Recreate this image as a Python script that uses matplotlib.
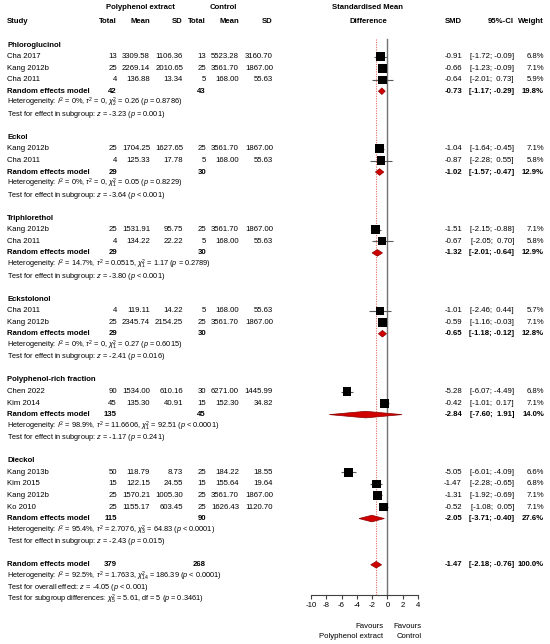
import numpy as np
import matplotlib
matplotlib.use('Agg')
import matplotlib.pyplot as plt

plt.rcParams['font.family'] = ['Liberation Sans', 'DejaVu Sans']
plt.rcParams['mathtext.fontset'] = 'custom'
plt.rcParams['mathtext.rm'] = 'Liberation Sans'
plt.rcParams['mathtext.it'] = 'Liberation Sans:italic'
plt.rcParams['mathtext.bf'] = 'Liberation Sans:bold'
plt.rcParams['axes.unicode_minus'] = False

# ---- data ----
subgroups = ['Phloroglucinol', 'Eckol', 'Triphlorethol', 'Eckstolonol',
             'Polyphenol-rich fraction', 'Dieckol']

study = ['Cha 2017', 'Kang 2012b', 'Cha 2011',
         'Kang 2012b', 'Cha 2011',
         'Kang 2012b', 'Cha 2011',
         'Cha 2011', 'Kang 2012b',
         'Chen 2022', 'Kim 2014',
         'Kang 2013b', 'Kim 2015', 'Kang 2012b', 'Ko 2010']
group = [0, 0, 0, 1, 1, 2, 2, 3, 3, 4, 4, 5, 5, 5, 5]

n_e = [13, 25, 4, 25, 4, 25, 4, 4, 25, 90, 45, 50, 15, 25, 25]
mean_e = [3309.58, 2269.14, 136.88, 1704.25, 125.33, 1531.91, 134.22, 119.11,
          2345.74, 1534.00, 135.30, 118.79, 122.15, 1570.21, 1155.17]
sd_e = [1106.36, 2010.65, 13.34, 1627.65, 17.78, 95.75, 22.22, 14.22,
        2154.25, 610.16, 40.91, 8.73, 24.55, 1005.30, 603.45]
n_c = [13, 25, 5, 25, 5, 25, 5, 5, 25, 30, 15, 25, 15, 25, 25]
mean_c = [5523.28, 3561.70, 168.00, 3561.70, 168.00, 3561.70, 168.00, 168.00,
          3561.70, 6271.00, 152.30, 184.22, 155.64, 3561.70, 1626.43]
sd_c = [3160.70, 1867.00, 55.63, 1867.00, 55.63, 1867.00, 55.63, 55.63,
        1867.00, 1445.99, 34.82, 18.55, 19.64, 1867.00, 1120.70]

smd = [-0.91, -0.66, -0.64, -1.04, -0.87, -1.51, -0.67, -1.01, -0.59,
       -5.28, -0.42, -5.05, -1.47, -1.31, -0.52]
lower = [-1.72, -1.23, -2.01, -1.64, -2.28, -2.15, -2.05, -2.46, -1.16,
         -6.07, -1.01, -6.01, -2.28, -1.92, -1.08]
upper = [-0.09, -0.09, 0.73, -0.45, 0.55, -0.88, 0.70, 0.44, -0.03,
         -4.49, 0.17, -4.09, -0.65, -0.69, 0.05]
weight = [6.8, 7.1, 5.9, 7.1, 5.8, 7.1, 5.8, 5.7, 7.1, 6.8, 7.1, 6.6, 6.8, 7.1, 7.1]

sub_n_e = [42, 29, 29, 29, 135, 115]
sub_n_c = [43, 30, 30, 30, 45, 90]
sub_smd = [-0.73, -1.02, -1.32, -0.65, -2.84, -2.05]
sub_lower = [-1.17, -1.57, -2.01, -1.18, -7.60, -3.71]
sub_upper = [-0.29, -0.47, -0.64, -0.12, 1.91, -0.40]
sub_weight = [19.8, 12.9, 12.9, 12.8, 14.0, 27.6]
sub_het = [
    r'Heterogeneity: $I^2$ = 0%, $\tau^2$ = 0, $\chi^2_2$ = 0.26 ($p$ = 0.8786)',
    r'Heterogeneity: $I^2$ = 0%, $\tau^2$ = 0, $\chi^2_1$ = 0.05 ($p$ = 0.8229)',
    r'Heterogeneity: $I^2$ = 14.7%, $\tau^2$ = 0.0515, $\chi^2_1$ = 1.17 ($p$ = 0.2789)',
    r'Heterogeneity: $I^2$ = 0%, $\tau^2$ = 0, $\chi^2_1$ = 0.27 ($p$ = 0.6015)',
    r'Heterogeneity: $I^2$ = 98.9%, $\tau^2$ = 11.6606, $\chi^2_1$ = 92.51 ($p$ < 0.0001)',
    r'Heterogeneity: $I^2$ = 95.4%, $\tau^2$ = 2.7076, $\chi^2_3$ = 64.83 ($p$ < 0.0001)',
]
sub_test = [
    r'Test for effect in subgroup: $z$ = -3.23 ($p$ = 0.001)',
    r'Test for effect in subgroup: $z$ = -3.64 ($p$ < 0.001)',
    r'Test for effect in subgroup: $z$ = -3.80 ($p$ < 0.001)',
    r'Test for effect in subgroup: $z$ = -2.41 ($p$ = 0.016)',
    r'Test for effect in subgroup: $z$ = -1.17 ($p$ = 0.241)',
    r'Test for effect in subgroup: $z$ = -2.43 ($p$ = 0.015)',
]

all_n_e, all_n_c = 379, 268
all_smd, all_lower, all_upper = -1.47, -2.18, -0.76
all_notes = [
    r'Heterogeneity: $I^2$ = 92.5%, $\tau^2$ = 1.7633, $\chi^2_{14}$ = 186.39 ($p$ < 0.0001)',
    r'Test for overall effect: $z$ = -4.05 ($p$ < 0.001)',
    r'Test for subgroup differences: $\chi^2_5$ = 5.61, df = 5 ($p$ = 0.3461)',
]

# ---- layout ----
W, H = 550, 644
fig = plt.figure(figsize=(W / 100, H / 100), dpi=100)
tx = fig.add_axes([0, 0, 1, 1])
tx.set_xlim(0, W)
tx.set_ylim(H, 0)
tx.axis('off')

x0, x1 = 311, 418   # pixel span of the -10..4 scale
fx = fig.add_axes([x0 / W, 0, (x1 - x0) / W, 1])
fx.set_xlim(-10, 4)
fx.set_ylim(H, 0)
fx.patch.set_visible(False)

fs = 5.6
fs_small = 5.3
tcol = 'black'
y_top, step = 45, 11.55
axis_y = 595

col = dict(tot_e=117, mean_e=150, sd_e=183, tot_c=206, mean_c=239, sd_c=273,
           smd=462, ci=514, w=544)


def put(x, y, s, ha='right', size=fs, bold=False):
    tx.text(x, y, s, ha=ha, va='center', fontsize=size, color=tcol,
            fontweight='bold' if bold else 'normal')


def ci_str(lo, hi):
    return f'[{lo:5.2f}; {hi:5.2f}]'


def stat_cols(y, est, lo, hi, w, bold=False):
    put(col['smd'], y, f'{est:.2f}', bold=bold)
    put(col['ci'], y, ci_str(lo, hi), bold=bold)
    put(col['w'], y, f'{w:.1f}%', bold=bold)


def diamond(y, est, lo, hi, h=3.3):
    fx.fill([lo, est, hi, est], [y, y - h, y, y + h], facecolor='#d10000',
            edgecolor='#8b0000', lw=0.5, zorder=4)


# headers
put(140, 7, 'Polyphenol extract', ha='center', bold=True)
put(223, 7, 'Control', ha='center', bold=True)
put(368, 7, 'Standardised Mean', ha='center', bold=True)
put(368, 21, 'Difference', ha='center', bold=True)
put(7, 21, 'Study', ha='left', bold=True)
for key, lab in [('tot_e', 'Total'), ('mean_e', 'Mean'), ('sd_e', 'SD'),
                 ('tot_c', 'Total'), ('mean_c', 'Mean'), ('sd_c', 'SD'),
                 ('smd', 'SMD'), ('ci', '95%-CI'), ('w', 'Weight')]:
    put(col[key], 21, lab, bold=True)

row = 0
study_y = []
for g, name in enumerate(subgroups):
    put(7, y_top + row * step, name, ha='left', bold=True)
    row += 1
    for i in [k for k in range(len(study)) if group[k] == g]:
        y = y_top + row * step
        study_y.append(y)
        put(7, y, study[i], ha='left')
        put(col['tot_e'], y, f'{n_e[i]}')
        put(col['mean_e'], y, f'{mean_e[i]:.2f}')
        put(col['sd_e'], y, f'{sd_e[i]:.2f}')
        put(col['tot_c'], y, f'{n_c[i]}')
        put(col['mean_c'], y, f'{mean_c[i]:.2f}')
        put(col['sd_c'], y, f'{sd_c[i]:.2f}')
        stat_cols(y, smd[i], lower[i], upper[i], weight[i])
        row += 1
    y = y_top + row * step
    put(7, y, 'Random effects model', ha='left', bold=True)
    put(col['tot_e'], y, f'{sub_n_e[g]}', bold=True)
    put(col['tot_c'], y, f'{sub_n_c[g]}', bold=True)
    stat_cols(y, sub_smd[g], sub_lower[g], sub_upper[g], sub_weight[g], bold=True)
    diamond(y, sub_smd[g], sub_lower[g], sub_upper[g])
    row += 1
    put(7, y_top + row * step, sub_het[g], ha='left', size=fs_small)
    row += 1
    put(7, y_top + row * step, sub_test[g], ha='left', size=fs_small)
    row += 2

# overall
y = y_top + row * step
put(7, y, 'Random effects model', ha='left', bold=True)
put(col['tot_e'], y, f'{all_n_e}', bold=True)
put(col['tot_c'], y, f'{all_n_c}', bold=True)
stat_cols(y, all_smd, all_lower, all_upper, 100.0, bold=True)
diamond(y, all_smd, all_lower, all_upper)
row += 1
for note in all_notes:
    put(7, y_top + row * step, note, ha='left', size=fs_small)
    row += 1

# study markers
study_y = np.array(study_y)
fx.hlines(study_y, lower, upper, color='0.35', lw=0.8, zorder=2)
fx.scatter(smd, study_y, s=np.array(weight) * 5.9, marker='s', color='black',
           linewidths=0, zorder=3)

# reference lines
fx.plot([0, 0], [39, axis_y], color='0.45', lw=1.0, zorder=1)
fx.plot([all_smd, all_smd], [39, axis_y], color='#e86a6a', lw=0.8, ls=(0, (1, 1.2)), zorder=1)

# axis
for s in ['top', 'right', 'left']:
    fx.spines[s].set_visible(False)
fx.spines['bottom'].set_position(('data', axis_y))
fx.spines['bottom'].set_color('0.25')
fx.spines['bottom'].set_linewidth(0.8)
fx.set_yticks([])
fx.set_xticks(np.arange(-10, 5, 2))
fx.tick_params(axis='x', length=3, width=0.8, pad=2, labelsize=fs, colors='0.25',
               labelcolor=tcol)

put(383, 626, 'Favours')
put(383, 636.5, 'Polyphenol extract')
put(422, 626, 'Favours')
put(422, 636.5, 'Control')

fig.savefig('out.png', dpi=100)
